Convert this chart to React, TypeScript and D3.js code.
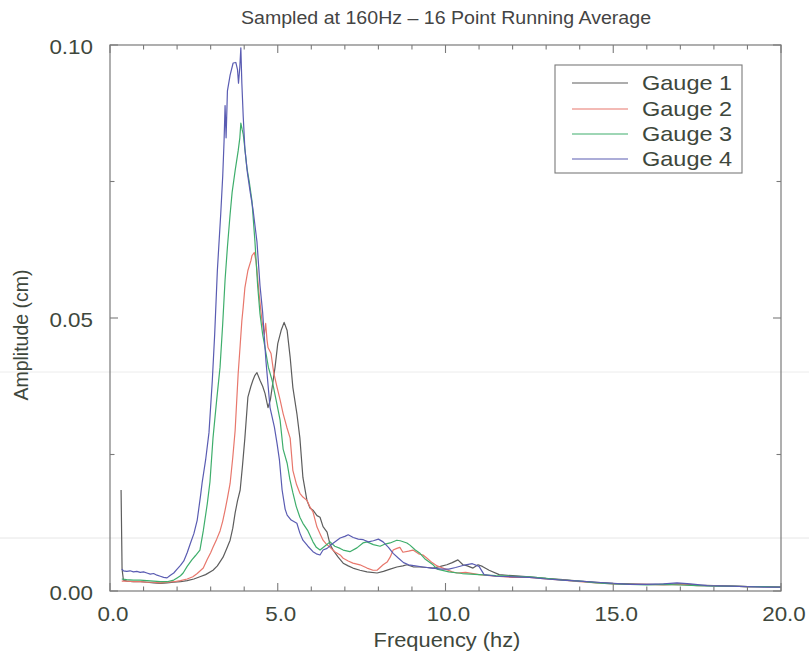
import React from "react";
import * as d3 from "d3";

const title = "Sampled at 160Hz – 16 Point Running Average";
const xLabel = "Frequency (hz)";
const yLabel = "Amplitude (cm)";
const xTickLabels = ["0.0", "5.0", "10.0", "15.0", "20.0"];
const yTickLabels = ["0.00", "0.05", "0.10"];
const seriesNames = ["Gauge 1", "Gauge 2", "Gauge 3", "Gauge 4"];
const seriesColors = ["#5d5d5d", "#e8776c", "#3fae6c", "#5a5cb2"];

// [frequency (Hz), amplitude (cm)]
const gauge1: [number, number][] = [
  [0.33, 0.0185], [0.36, 0.004], [0.4, 0.002], [0.5, 0.0018], [0.7, 0.0017], [0.9, 0.0017], [1.1, 0.0016],
  [1.3, 0.0015], [1.5, 0.0014], [1.7, 0.0015], [1.9, 0.0016], [2.1, 0.0017], [2.3, 0.0019], [2.5, 0.0022],
  [2.68, 0.0026], [2.85, 0.003], [3.07, 0.0038], [3.2, 0.0046], [3.37, 0.0062], [3.48, 0.0078], [3.58, 0.0093],
  [3.66, 0.0115], [3.73, 0.0143], [3.8, 0.0165], [3.88, 0.0185], [3.95, 0.023], [4.02, 0.028], [4.11, 0.0355],
  [4.2, 0.0375], [4.26, 0.0386], [4.32, 0.0395], [4.38, 0.04], [4.47, 0.0386], [4.55, 0.0375], [4.62, 0.0362],
  [4.71, 0.0336], [4.78, 0.035], [4.85, 0.038], [4.92, 0.041], [5.0, 0.0453], [5.1, 0.0477], [5.19, 0.0492],
  [5.28, 0.0477], [5.37, 0.0428], [5.45, 0.0373], [5.57, 0.0325], [5.66, 0.028], [5.75, 0.0208], [5.87, 0.0166],
  [5.96, 0.0152], [6.05, 0.0148], [6.17, 0.0138], [6.26, 0.0135], [6.35, 0.0118], [6.47, 0.0108], [6.56, 0.0085],
  [6.65, 0.0075], [6.8, 0.0062], [6.95, 0.0051], [7.1, 0.0046], [7.24, 0.0042], [7.45, 0.0038], [7.66, 0.0035],
  [7.96, 0.0033], [8.15, 0.0036], [8.35, 0.004], [8.55, 0.0044], [8.73, 0.0046], [8.85, 0.0048], [9.05, 0.0044],
  [9.24, 0.0044], [9.45, 0.0043], [9.63, 0.0042], [9.85, 0.0045], [10.04, 0.0048], [10.2, 0.0052], [10.37, 0.0057],
  [10.52, 0.0048], [10.65, 0.0046], [10.82, 0.0042], [10.97, 0.0048], [11.1, 0.0045], [11.3, 0.0038], [11.6, 0.003],
  [12.0, 0.0028], [12.5, 0.0026], [13.0, 0.0023], [13.5, 0.0021], [14.0, 0.0018], [14.5, 0.0016], [15.0, 0.0014],
  [15.5, 0.0013], [16.0, 0.0012], [16.5, 0.0012], [17.0, 0.0013], [17.5, 0.0011], [18.0, 0.001], [18.5, 0.0009],
  [19.0, 0.0008], [19.5, 0.0008], [20.0, 0.0007],
];

const gauge2: [number, number][] = [
  [0.35, 0.0018], [0.5, 0.0018], [0.7, 0.0017], [0.9, 0.0017], [1.1, 0.0016], [1.3, 0.0016], [1.5, 0.0015],
  [1.7, 0.0016], [1.9, 0.0017], [2.1, 0.0019], [2.3, 0.0022], [2.47, 0.0026], [2.6, 0.0032], [2.78, 0.0042],
  [2.9, 0.0058], [3.0, 0.007], [3.07, 0.008], [3.18, 0.0095], [3.28, 0.011], [3.36, 0.0128], [3.43, 0.0148],
  [3.5, 0.017], [3.58, 0.0197], [3.66, 0.0245], [3.73, 0.0294], [3.82, 0.0398], [3.88, 0.045], [3.93, 0.0495],
  [3.97, 0.052], [4.02, 0.0555], [4.11, 0.0587], [4.2, 0.0605], [4.23, 0.0614], [4.3, 0.062], [4.35, 0.0605],
  [4.38, 0.0587], [4.45, 0.054], [4.53, 0.0495], [4.6, 0.047], [4.64, 0.049], [4.68, 0.046], [4.71, 0.0446],
  [4.8, 0.0435], [4.88, 0.04], [4.98, 0.0373], [5.07, 0.035], [5.16, 0.0325], [5.27, 0.03], [5.37, 0.028],
  [5.45, 0.0221], [5.56, 0.0195], [5.66, 0.0179], [5.75, 0.0172], [5.87, 0.0166], [5.96, 0.0154], [6.05, 0.0145],
  [6.17, 0.0117], [6.26, 0.0105], [6.35, 0.0093], [6.46, 0.0085], [6.56, 0.008], [6.7, 0.0072], [6.86, 0.0066],
  [6.95, 0.006], [7.1, 0.0055], [7.24, 0.0051], [7.45, 0.0048], [7.66, 0.0042], [7.84, 0.0038], [7.96, 0.0038],
  [8.14, 0.0048], [8.26, 0.0053], [8.35, 0.0062], [8.44, 0.0075], [8.55, 0.0078], [8.64, 0.008], [8.73, 0.0071],
  [8.9, 0.0073], [9.03, 0.0075], [9.2, 0.0068], [9.33, 0.0066], [9.45, 0.006], [9.6, 0.0052], [9.75, 0.0046],
  [9.84, 0.0044], [10.0, 0.004], [10.2, 0.0035], [10.34, 0.0033], [10.6, 0.0034], [11.0, 0.003], [11.5, 0.0027],
  [12.0, 0.0025], [12.5, 0.0025], [13.0, 0.0022], [13.5, 0.002], [14.0, 0.0017], [14.5, 0.0015], [15.0, 0.0013],
  [15.5, 0.0012], [16.0, 0.0012], [16.5, 0.0011], [17.0, 0.0012], [17.5, 0.001], [18.0, 0.001], [18.5, 0.0009],
  [19.0, 0.0008], [19.5, 0.0008], [20.0, 0.0007],
];

const gauge3: [number, number][] = [
  [0.35, 0.0022], [0.5, 0.0021], [0.7, 0.002], [0.9, 0.002], [1.1, 0.0019], [1.3, 0.0018], [1.5, 0.0017],
  [1.7, 0.0017], [1.9, 0.002], [2.0, 0.0024], [2.1, 0.0028], [2.18, 0.0033], [2.3, 0.0045], [2.44, 0.0057],
  [2.55, 0.0065], [2.68, 0.0075], [2.78, 0.011], [2.9, 0.016], [2.98, 0.02], [3.07, 0.028], [3.18, 0.035],
  [3.28, 0.041], [3.36, 0.049], [3.43, 0.057], [3.5, 0.063], [3.58, 0.069], [3.64, 0.073], [3.73, 0.077],
  [3.82, 0.0806], [3.87, 0.083], [3.9, 0.0857], [3.94, 0.0845], [3.97, 0.0837], [4.02, 0.081], [4.08, 0.0775],
  [4.15, 0.075], [4.23, 0.0715], [4.32, 0.064], [4.4, 0.056], [4.47, 0.0508], [4.55, 0.047], [4.62, 0.0446],
  [4.72, 0.041], [4.83, 0.0386], [4.95, 0.035], [5.07, 0.0313], [5.16, 0.026], [5.28, 0.0234], [5.36, 0.0205],
  [5.45, 0.018], [5.55, 0.0155], [5.66, 0.0135], [5.75, 0.0124], [5.9, 0.011], [6.05, 0.009], [6.15, 0.008],
  [6.26, 0.0075], [6.4, 0.0082], [6.56, 0.009], [6.7, 0.0082], [6.86, 0.0078], [6.95, 0.0075], [7.15, 0.0072],
  [7.36, 0.0079], [7.54, 0.0088], [7.66, 0.009], [7.85, 0.0085], [8.05, 0.0082], [8.2, 0.0086], [8.35, 0.0088],
  [8.55, 0.0093], [8.65, 0.0092], [8.85, 0.0088], [8.94, 0.0084], [9.1, 0.0075], [9.24, 0.0069], [9.4, 0.0058],
  [9.63, 0.0048], [9.75, 0.004], [10.1, 0.0035], [10.5, 0.0032], [11.0, 0.003], [11.5, 0.0028], [12.0, 0.0027],
  [12.5, 0.0026], [13.0, 0.0023], [13.5, 0.002], [14.0, 0.0018], [14.5, 0.0015], [15.0, 0.0013], [15.5, 0.0012],
  [16.0, 0.0011], [16.5, 0.0012], [17.0, 0.0011], [17.5, 0.001], [18.0, 0.0009], [18.5, 0.0009], [19.0, 0.0008],
  [19.5, 0.0008], [20.0, 0.0007],
];

const gauge4: [number, number][] = [
  [0.35, 0.004], [0.4, 0.0037], [0.5, 0.0036], [0.6, 0.0037], [0.7, 0.0035], [0.8, 0.0036], [0.9, 0.0034],
  [1.0, 0.0035], [1.1, 0.0033], [1.2, 0.0031], [1.3, 0.0032], [1.4, 0.0029], [1.5, 0.0027], [1.6, 0.0025],
  [1.7, 0.0024], [1.8, 0.0029], [1.9, 0.0033], [2.0, 0.004], [2.1, 0.0047], [2.2, 0.0055], [2.3, 0.007],
  [2.4, 0.0088], [2.5, 0.0105], [2.6, 0.013], [2.7, 0.0175], [2.75, 0.02], [2.85, 0.024], [2.95, 0.029],
  [3.05, 0.0386], [3.12, 0.047], [3.2, 0.0587], [3.3, 0.069], [3.36, 0.076], [3.4, 0.0824], [3.43, 0.0889],
  [3.46, 0.083], [3.5, 0.0916], [3.58, 0.0945], [3.67, 0.0967], [3.75, 0.0968], [3.8, 0.0955], [3.83, 0.093],
  [3.87, 0.096], [3.9, 0.0995], [3.93, 0.093], [3.97, 0.087], [4.02, 0.081], [4.1, 0.0764], [4.18, 0.073],
  [4.26, 0.07], [4.38, 0.064], [4.47, 0.056], [4.55, 0.051], [4.65, 0.042], [4.77, 0.0336], [4.9, 0.03],
  [4.98, 0.027], [5.05, 0.024], [5.13, 0.0185], [5.22, 0.015], [5.28, 0.0139], [5.4, 0.013], [5.57, 0.0124],
  [5.66, 0.0106], [5.75, 0.0093], [5.9, 0.0082], [6.05, 0.0072], [6.15, 0.0068], [6.26, 0.0066], [6.35, 0.0075],
  [6.47, 0.0078], [6.6, 0.0085], [6.75, 0.0092], [6.86, 0.0097], [7.0, 0.01], [7.1, 0.0103], [7.25, 0.0098],
  [7.4, 0.0095], [7.55, 0.0094], [7.7, 0.009], [7.85, 0.0092], [8.0, 0.0095], [8.14, 0.009], [8.3, 0.008],
  [8.44, 0.0069], [8.6, 0.006], [8.75, 0.0052], [8.9, 0.0048], [9.1, 0.0046], [9.33, 0.0044], [9.6, 0.0042],
  [9.9, 0.004], [10.1, 0.004], [10.3, 0.0043], [10.6, 0.0048], [10.8, 0.005], [11.0, 0.0045], [11.15, 0.003],
  [11.5, 0.0027], [12.0, 0.0026], [12.5, 0.0025], [13.0, 0.0022], [13.5, 0.002], [14.0, 0.0018], [14.5, 0.0016],
  [15.0, 0.0014], [15.5, 0.0012], [16.0, 0.0012], [16.5, 0.0013], [16.9, 0.0015], [17.3, 0.0013], [17.8, 0.001],
  [18.5, 0.0009], [19.0, 0.0008], [19.5, 0.0007], [20.0, 0.0007],
];

const allSeries = [gauge1, gauge2, gauge3, gauge4];

const W = 809;
const H = 662;
const M = { left: 110, right: 781, top: 45, bottom: 591 };
const FONT = "'Liberation Sans', Arial, Helvetica, sans-serif";
const TEXT = "#3e473c";
const STRETCH = 1.12;

function Txt(props: { x: number; y: number; size: number; anchor?: string; fill?: string; sx?: number; rotate?: number; children: React.ReactNode }) {
  const { x, y, size, anchor = "start", fill = TEXT, sx = STRETCH, rotate = 0, children } = props;
  const t = rotate ? `translate(${x},${y}) rotate(${rotate})` : `translate(${x},${y}) scale(${sx},1)`;
  return (
    <text transform={t} fontFamily={FONT} fontSize={size} textAnchor={anchor} fill={fill}>
      {children}
    </text>
  );
}

export default function App() {
  const x = d3.scaleLinear().domain([0, 20]).range([M.left, M.right]);
  const y = d3.scaleLinear().domain([0, 0.1]).range([M.bottom, M.top]);
  const line = d3
    .line<[number, number]>()
    .x((d) => x(d[0]))
    .y((d) => y(d[1]));

  const xMinor = d3.range(0, 21, 1);
  const yMinor = d3.range(0, 0.1001, 0.025);
  const axisColor = "#7a7a7a";

  const legendRows = [83, 109, 134, 159];

  return (
    <svg
      width={W}
      height={H}
      style={{ position: "absolute", left: 0, top: 0, background: "#fff" }}
    >
      <rect x={0} y={0} width={W} height={H} fill="#fff" />
      {/* faint scan lines */}
      <line x1={0} x2={W} y1={372} y2={372} stroke="#ececec" strokeWidth={1} />
      <line x1={0} x2={W} y1={538} y2={538} stroke="#e6e6e6" strokeWidth={1} />

      <Txt x={446} y={24} size={17.5} anchor="middle" fill="#444">
        {title}
      </Txt>

      {/* series */}
      {allSeries.map((s, i) => (
        <path key={i} d={line(s) || ""} fill="none" stroke={seriesColors[i]} strokeWidth={1.2} strokeLinejoin="round" />
      ))}

      {/* frame */}
      <rect x={M.left} y={M.top} width={M.right - M.left} height={M.bottom - M.top} fill="none" stroke={axisColor} strokeWidth={1.2} />

      {/* x ticks */}
      {xMinor.map((v) => {
        const len = v % 5 === 0 ? 8 : 4.5;
        return (
          <g key={"xt" + v}>
            <line x1={x(v)} x2={x(v)} y1={M.bottom} y2={M.bottom - len} stroke={axisColor} strokeWidth={1.1} />
            <line x1={x(v)} x2={x(v)} y1={M.top} y2={M.top + len} stroke={axisColor} strokeWidth={1.1} />
          </g>
        );
      })}
      {/* y ticks */}
      {yMinor.map((v, i) => {
        const len = i % 2 === 0 ? 8 : 4.5;
        return (
          <g key={"yt" + i}>
            <line x1={M.left} x2={M.left + len} y1={y(v)} y2={y(v)} stroke={axisColor} strokeWidth={1.1} />
            <line x1={M.right} x2={M.right - len} y1={y(v)} y2={y(v)} stroke={axisColor} strokeWidth={1.1} />
          </g>
        );
      })}

      {/* x tick labels */}
      {xTickLabels.map((t, i) => (
        <Txt key={"xl" + i} x={x(i * 5) + 3} y={621} size={20} anchor="middle">
          {t}
        </Txt>
      ))}
      {/* y tick labels */}
      {yTickLabels.map((t, i) => (
        <Txt key={"yl" + i} x={93} y={y(i * 0.05) + 9} size={20} anchor="end">
          {t}
        </Txt>
      ))}

      <Txt x={447} y={647} size={19.5} anchor="middle">
        {xLabel}
      </Txt>
      <Txt x={28} y={335} size={19.5} anchor="middle" rotate={-90}>
        {yLabel}
      </Txt>

      {/* legend */}
      <rect x={555} y={65} width={187} height={108} fill="#fff" stroke={axisColor} strokeWidth={1.1} />
      {seriesNames.map((n, i) => (
        <g key={"lg" + i}>
          <line x1={572} x2={628} y1={legendRows[i]} y2={legendRows[i]} stroke={seriesColors[i]} strokeWidth={1.2} />
          <Txt x={642} y={legendRows[i] + 7} size={21} anchor="start">
            {n}
          </Txt>
        </g>
      ))}
    </svg>
  );
}
